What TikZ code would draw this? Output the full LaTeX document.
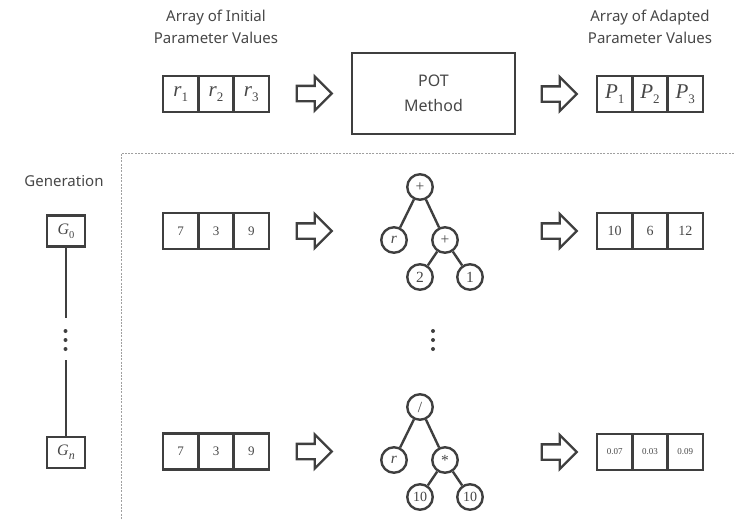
\documentclass[tikz,border=0pt]{standalone}
\usepackage{fontspec}
\newfontfamily\labelfont{Noto Sans}
\newfontfamily\cellfont{Liberation Serif}
\usetikzlibrary{shapes.arrows}
\definecolor{textgray}{HTML}{474747}
\definecolor{inkgray}{HTML}{3F3F3F}
\definecolor{dashgray}{HTML}{A0A0A0}
\newcommand{\var}[2]{{\cellfont\itshape #1}\raisebox{-0.25em}{\cellfont\fontsize{13}{13}\selectfont #2}}
\begin{document}
\begin{tikzpicture}[x=1pt,y=-1pt,
  label/.style={text=textgray, font=\labelfont\fontsize{15}{22.5}\selectfont, align=center, inner sep=0pt},
  cell/.style={draw=inkgray, line width=2.7pt, minimum width=35.3pt, minimum height=36pt, inner sep=0pt, text=textgray},
  genbox/.style={draw=inkgray, line width=2.7pt, minimum width=38pt, minimum height=31pt, inner sep=0pt, text=textgray, font=\cellfont\fontsize{16}{16}\selectfont},
  tnode/.style={circle, draw=inkgray, line width=2.4pt, minimum size=25.5pt, inner sep=0pt, text=textgray, font=\cellfont\fontsize{15.5}{15.5}\selectfont},
  tedge/.style={draw=inkgray, line width=2.4pt},
  blockarrow/.style={single arrow, draw=inkgray, line width=2.3pt, fill=white, minimum height=35pt, minimum width=32pt, inner sep=0pt, inner ysep=6.5pt, single arrow head extend=9.5pt},
  dot/.style={circle, fill=inkgray, minimum size=4pt, inner sep=0pt},
  bigvar/.style={font=\cellfont\fontsize{21}{21}\selectfont},
  numtext/.style={font=\cellfont\fontsize{13}{13}\selectfont},
  midtext/.style={font=\cellfont\fontsize{14}{14}\selectfont},
  tinytext/.style={font=\cellfont\fontsize{9}{9}\selectfont}
]
\useasboundingbox (0,0) rectangle (734,520);

% separator between the method row and the examples
\draw[dashgray, line width=0.9pt, dash pattern=on 2pt off 1.3pt] (734,153) -- (121,153) -- (121,520);

% column headings
\node[label] (headIn) at (216,27) {Array of Initial\\Parameter Values};
\node[label] (headOut) at (650,27) {Array of Adapted\\Parameter Values};
\node[label] (headGen) at (64,181) {Generation};

% method row
\node[cell, bigvar] (r1) at (180.7,94) {\var{r}{1}};
\node[cell, bigvar] (r2) at (216,94) {\var{r}{2}};
\node[cell, bigvar] (r3) at (251.3,94) {\var{r}{3}};
\node[blockarrow] (arrA) at (310.5,93.5) {};
\node[draw=inkgray, line width=2.7pt, minimum width=163pt, minimum height=81pt, label, font=\labelfont\fontsize{16}{25}\selectfont] (pot) at (433.5,93.5) {POT\\Method};
\node[blockarrow] (arrB) at (555.5,94) {};
\node[cell, bigvar] (p1) at (614.7,94) {\var{P}{1}};
\node[cell, bigvar] (p2) at (650,94) {\var{P}{2}};
\node[cell, bigvar] (p3) at (685.3,94) {\var{P}{3}};

% generation axis
\node[genbox] (g0) at (66,231) {\var{G}{\fontsize{10.5}{10.5}\selectfont 0}};
\node[genbox] (gn) at (66,452.5) {\var{G}{\fontsize{12}{12}\selectfont\itshape n}};
\coordinate (gtop) at (66,318);
\coordinate (gbot) at (66,360);
\draw[tedge] (g0) -- (gtop);
\draw[tedge] (gbot) -- (gn);
\node[dot] (gd1) at (65.5,331) {};
\node[dot] (gd2) at (65.5,340) {};
\node[dot] (gd3) at (65.5,349) {};

% first generation
\node[cell, numtext] (a1) at (180.7,231) {7};
\node[cell, numtext] (a2) at (216,231) {3};
\node[cell, numtext] (a3) at (251.3,231) {9};
\node[blockarrow] (arrC) at (310.5,231) {};
\node[tnode] (t1root) at (420,187) {+};
\node[tnode] (t1r) at (394,240) {\itshape r};
\node[tnode] (t1plus) at (445,240) {+};
\node[tnode] (t1two) at (420,277) {2};
\node[tnode] (t1one) at (470,277) {1};
\draw[tedge] (t1root) -- (t1r);
\draw[tedge] (t1root) -- (t1plus);
\draw[tedge] (t1plus) -- (t1two);
\draw[tedge] (t1plus) -- (t1one);
\node[blockarrow] (arrD) at (555.5,231) {};
\node[cell, midtext] (b1) at (614.7,231) {10};
\node[cell, midtext] (b2) at (650,231) {6};
\node[cell, midtext] (b3) at (685.3,231) {12};

% intermediate generations
\node[dot] (md1) at (433,331) {};
\node[dot] (md2) at (433,340) {};
\node[dot] (md3) at (433,349) {};

% last generation
\node[cell, numtext] (c1) at (180.7,451.5) {7};
\node[cell, numtext] (c2) at (216,451.5) {3};
\node[cell, numtext] (c3) at (251.3,451.5) {9};
\node[blockarrow] (arrE) at (310.5,451.5) {};
\node[tnode] (t2root) at (420,407) {/};
\node[tnode] (t2r) at (394,460) {\itshape r};
\node[tnode] (t2star) at (445,460) {*};
\node[tnode, font=\cellfont\fontsize{14}{14}\selectfont] (t2ten) at (420,497) {10};
\node[tnode, font=\cellfont\fontsize{14}{14}\selectfont] (t2tenb) at (470,497) {10};
\draw[tedge] (t2root) -- (t2r);
\draw[tedge] (t2root) -- (t2star);
\draw[tedge] (t2star) -- (t2ten);
\draw[tedge] (t2star) -- (t2tenb);
\node[blockarrow] (arrF) at (555.5,452) {};
\node[cell, tinytext] (d1) at (614.7,452) {0.07};
\node[cell, tinytext] (d2) at (650,452) {0.03};
\node[cell, tinytext] (d3) at (685.3,452) {0.09};
\end{tikzpicture}
\end{document}
